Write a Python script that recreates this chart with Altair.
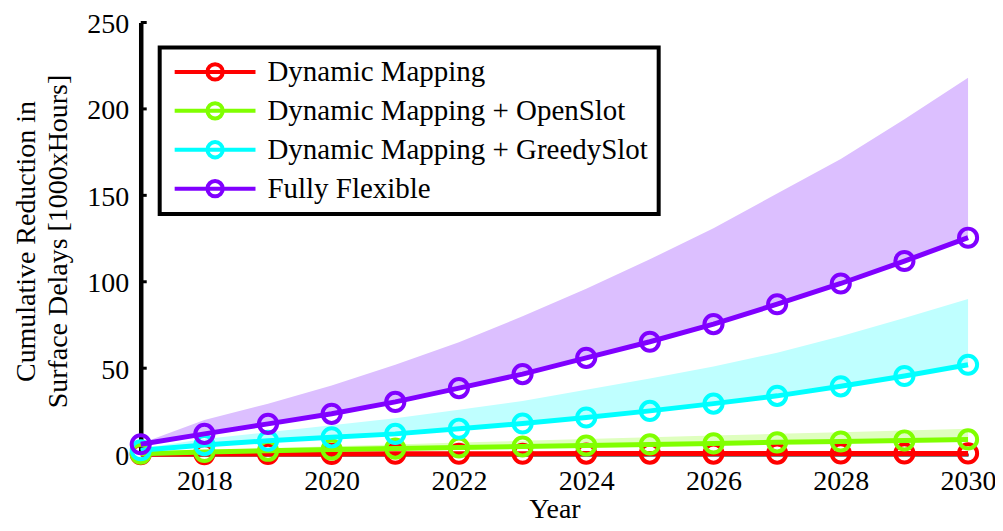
import altair as alt
import pandas as pd

years = list(range(2017, 2031))

series_names = [
    "Dynamic Mapping",
    "Dynamic Mapping + OpenSlot",
    "Dynamic Mapping + GreedySlot",
    "Fully Flexible",
]
line_colors = ["#FF0000", "#80FF00", "#00FFFF", "#8000FF"]
band_colors = ["#FFD0D0", "#DFFFBF", "#BFFFFF", "#DCBFFF"]

red_mean = [0.2, 0.3, 0.4, 0.4, 0.5, 0.5, 0.5, 0.6, 0.6, 0.6, 0.6, 0.7, 0.7, 0.7]
red_upper = [0.3, 0.5, 0.6, 0.7, 0.8, 0.9, 1.0, 1.0, 1.1, 1.1, 1.2, 1.2, 1.3, 1.3]

green_mean = [0.5, 1.5, 2.2, 2.9, 3.5, 4.1, 4.7, 5.3, 5.9, 6.5, 7.1, 7.6, 8.2, 8.8]
green_upper = [0.8, 2.5, 3.7, 4.9, 5.9, 7.0, 8.0, 9.0, 10.0, 11.0, 12.0, 12.9, 13.9, 15.0]

cyan_mean = [2.5, 5.5, 8.0, 10.0, 12.0, 15.0, 18.0, 21.5, 25.3, 29.5, 34.0, 39.5, 45.5, 52.0]
cyan_upper = [3.5, 9.0, 13.0, 17.0, 21.0, 26.0, 31.0, 37.5, 44.0, 51.0, 59.0, 68.5, 79.0, 90.0]

purple_mean = [6.0, 12.0, 17.8, 23.6, 30.5, 38.5, 46.6, 56.0, 65.3, 75.5, 87.0, 99.0, 112.0, 125.5]
purple_upper = [6.5, 20.0, 29.5, 40.0, 52.0, 65.0, 80.0, 96.0, 113.0, 131.0, 151.0, 171.0, 194.0, 218.0]

means = [red_mean, green_mean, cyan_mean, purple_mean]
uppers = [red_upper, green_upper, cyan_upper, purple_upper]

x_ticks = [2018, 2020, 2022, 2024, 2026, 2028, 2030]
y_ticks = [0, 50, 100, 150, 200, 250]

rows = []
for name, m, u in zip(series_names, means, uppers):
    for yr, mv, uv in zip(years, m, u):
        rows.append({"year": yr, "series": name, "value": mv, "upper": uv})
df = pd.DataFrame(rows)

FONT = "Liberation Serif"

x_enc = alt.X(
    "year:Q",
    scale=alt.Scale(domain=[2017, 2030], nice=False, zero=False),
    axis=alt.Axis(
        values=x_ticks, format="d", title="Year", ticks=False, grid=False,
        domainColor="black", domainWidth=3, labelFont=FONT, labelFontSize=28,
        labelColor="black", labelPadding=13, titleFont=FONT, titleFontSize=28,
        titleFontWeight="normal", titleColor="black", titleY=55,
        titleBaseline="middle", labelFlush=False,
    ),
)
y_scale = alt.Scale(domain=[0, 250], nice=False)
y_axis = alt.Axis(
    values=y_ticks, title=["Cumulative Reduction in", "Surface Delays [1000xHours]"],
    ticks=False, grid=False, domainColor="black", domainWidth=4.5,
    labelFont=FONT, labelFontSize=28, labelColor="black", labelPadding=12,
    labelOffset=2,
    titleFont=FONT, titleFontSize=28, titleFontWeight="normal",
    titleColor="black", titleX=-114, titleY=219, titleAlign="center",
    titleBaseline="middle", titleAngle=-90, titleLineHeight=32,
)
y_enc = alt.Y("value:Q", scale=y_scale, axis=y_axis)

legend = alt.Legend(
    title=None, orient="none", legendX=19, legendY=25,
    labelFont=FONT, labelFontSize=29, labelColor="black",
    symbolType="M-1,0H1M-0.19,0A0.19,0.19,0,1,0,0.19,0A0.19,0.19,0,1,0,-0.19,0Z",
    symbolSize=6561, symbolStrokeWidth=4, symbolFillColor="transparent",
    symbolOffset=3, labelOffset=10, rowPadding=9, padding=10, clipHeight=29,
    strokeColor="black", labelLimit=600,
)
color_enc = alt.Color(
    "series:N",
    scale=alt.Scale(domain=series_names, range=line_colors),
    legend=legend,
    sort=series_names,
)

layers = []
# bands
for name, bc in zip(series_names, band_colors):
    layers.append(
        alt.Chart(df).transform_filter(alt.datum.series == name)
        .mark_area(color=bc, opacity=1)
        .encode(x=x_enc, y=y_enc, y2="upper:Q")
    )
# y ticks pointing inward
tick_df = pd.DataFrame({"value": y_ticks[1:]})
layers.append(
    alt.Chart(tick_df).mark_rule(color="black", strokeWidth=3)
    .encode(y=y_enc, x=alt.value(0), x2=alt.value(6))
)
# lines and points
for name in series_names:
    base = alt.Chart(df).transform_filter(alt.datum.series == name)
    layers.append(base.mark_line(strokeWidth=5).encode(x=x_enc, y=y_enc, color=color_enc))
    layers.append(
        base.mark_point(filled=False, size=330, strokeWidth=4, opacity=1)
        .encode(x=x_enc, y=y_enc, color=color_enc)
    )

chart = (
    alt.layer(*layers)
    .properties(
        width=829, height=433,
        autosize=alt.AutoSizeParams(type="none"),
        padding={"left": 133, "top": 14, "right": 27, "bottom": 68},
    )
    .configure_view(stroke=None)
    .configure_legend(strokeWidth=4)
)

chart.save("out.html", embed_options={"renderer": "svg", "actions": False})
